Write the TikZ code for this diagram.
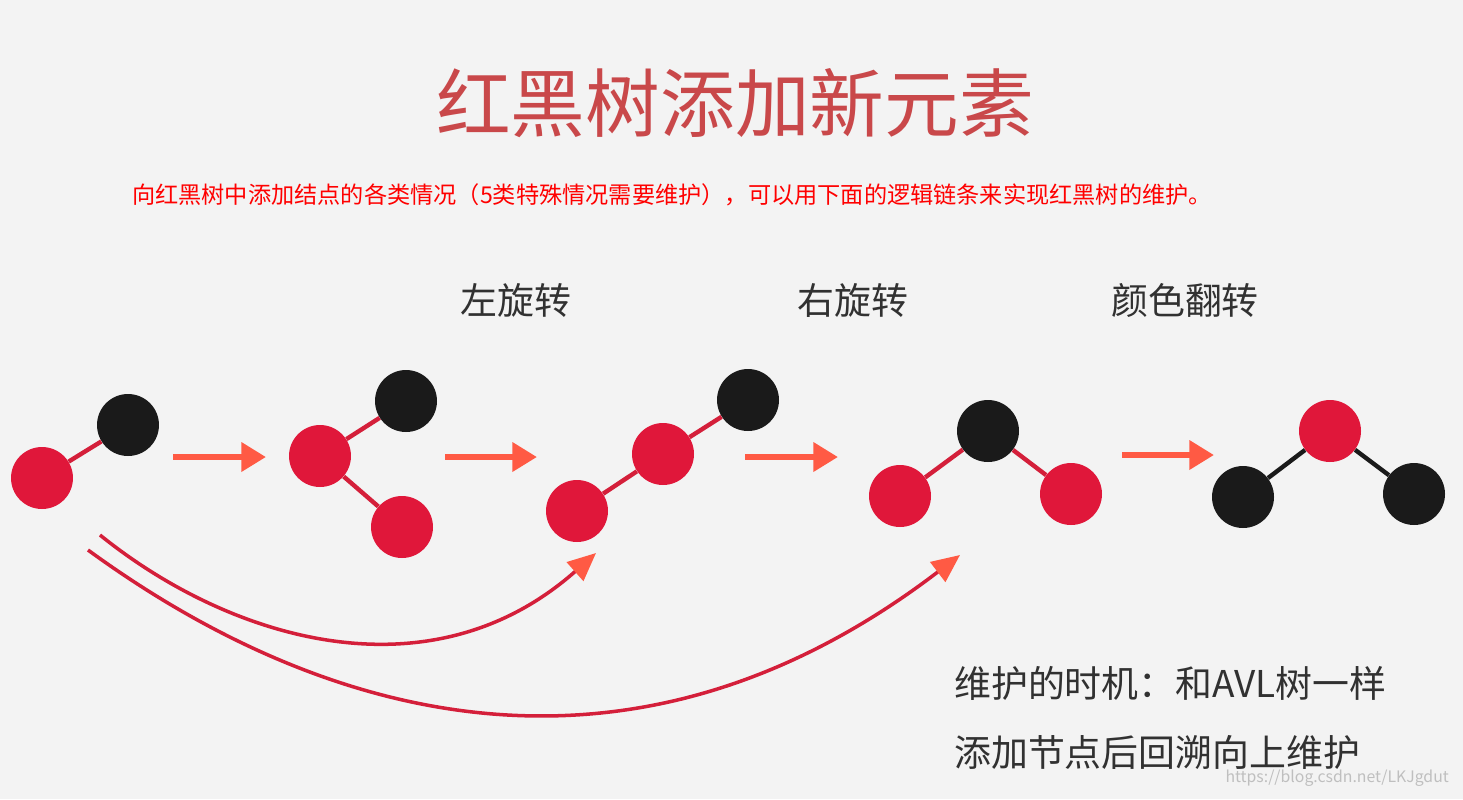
\documentclass[tikz,border=0pt]{standalone}
\usepackage{fontspec}
\setmainfont{Noto Sans CJK SC}
\usetikzlibrary{arrows.meta}
\definecolor{bg}{HTML}{F3F3F3}
\definecolor{rbred}{HTML}{E0173A}
\definecolor{rbblack}{HTML}{1A1A1A}
\definecolor{titlered}{HTML}{C9484A}
\definecolor{arrred}{HTML}{FF5A44}
\definecolor{curvered}{HTML}{D41F3A}
\tikzset{
  rnode/.style={circle,fill=rbred,minimum size=1.24cm,inner sep=0pt},
  bnode/.style={circle,fill=rbblack,minimum size=1.24cm,inner sep=0pt},
  redge/.style={draw=curvered,line width=2.5pt},
  bedge/.style={draw=rbblack,line width=2.5pt},
  steparrow/.style={draw=arrred,line width=3.5pt,-{Triangle[length=14pt,width=16pt]}},
  backcurve/.style={draw=curvered,line width=2pt,-{Triangle[length=16pt,width=14pt,fill=arrred,color=arrred]}},
  label/.style={font=\fontsize{21}{25}\selectfont,text=rbblack!90}
}
\begin{document}
\begin{tikzpicture}[x=0.02cm,y=-0.02cm]
\fill[bg] (0,0) rectangle (1463,799);
\useasboundingbox (0,0) rectangle (1463,799);
% title
\node[text=titlered,font=\fontsize{42.5}{46}\selectfont] (title) at (735,103) {红黑树添加新元素};
\node[text=red,font=\fontsize{13.2}{16}\selectfont,anchor=west] (intro) at (126,195)
  {向红黑树中添加结点的各类情况（5类特殊情况需要维护），可以用下面的逻辑链条来实现红黑树的维护。};
\node[label] (lrot) at (516,300) {左旋转};
\node[label] (rrot) at (853,300) {右旋转};
\node[label] (flip) at (1185,300) {颜色翻转};
% tree 1
\node[rnode] (a1) at (42,478) {};
\node[bnode] (a2) at (128,425) {};
\draw[redge] (a1) -- (a2);
% tree 2
\node[rnode] (b1) at (320,456) {};
\node[bnode] (b2) at (406,401) {};
\node[rnode] (b3) at (402,527) {};
\draw[redge] (b1) -- (b2);
\draw[redge] (b1) -- (b3);
% tree 3
\node[rnode] (c1) at (577,511) {};
\node[rnode] (c2) at (663,454) {};
\node[bnode] (c3) at (748,400) {};
\draw[redge] (c1) -- (c2);
\draw[redge] (c2) -- (c3);
% tree 4
\node[bnode] (d1) at (988,431) {};
\node[rnode] (d2) at (900,496) {};
\node[rnode] (d3) at (1071,494) {};
\draw[redge] (d1) -- (d2);
\draw[redge] (d1) -- (d3);
% tree 5
\node[rnode] (e1) at (1330,431) {};
\node[bnode] (e2) at (1243,497) {};
\node[bnode] (e3) at (1414,494) {};
\draw[bedge] (e1) -- (e2);
\draw[bedge] (e1) -- (e3);
% step arrows
\coordinate (s1a) at (173,457); \coordinate (s1b) at (266,457);
\coordinate (s2a) at (445,457); \coordinate (s2b) at (537,457);
\coordinate (s3a) at (745,457); \coordinate (s3b) at (838,457);
\coordinate (s4a) at (1122,455); \coordinate (s4b) at (1214,455);
\draw[steparrow] (s1a) -- (s1b);
\draw[steparrow] (s2a) -- (s2b);
\draw[steparrow] (s3a) -- (s3b);
\draw[steparrow] (s4a) -- (s4b);
% back curves
\coordinate (k1a) at (100,535); \coordinate (k1b) at (596,553);
\coordinate (k2a) at (88,550); \coordinate (k2b) at (960,555);
\draw[backcurve] (k1a) .. controls (230,640) and (430,700) .. (k1b);
\draw[backcurve] (k2a) .. controls (280,690) and (600,830) .. (k2b);
% notes
\node[label,anchor=west] (note1) at (948,683) {维护的时机：和AVL树一样};
\node[label,anchor=west] (note2) at (948,752) {添加节点后回溯向上维护};
\node[text=white!75!black,font=\fontsize{9}{11}\selectfont,anchor=east] (url) at (1455,778) {https://blog.csdn.net/LKJgdut};
\end{tikzpicture}
\end{document}
